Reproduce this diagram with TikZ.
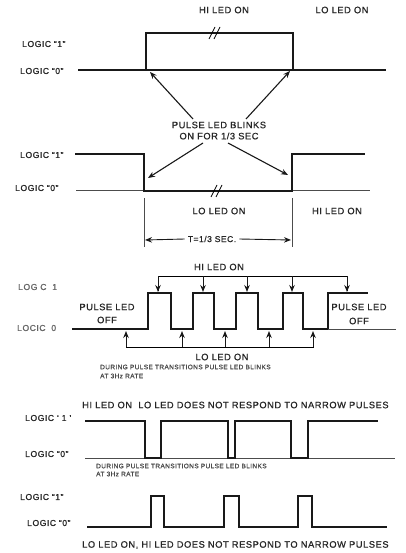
\documentclass[tikz,border=0pt]{standalone}
\usepackage{fontspec}
\setmainfont{Liberation Sans}[LetterSpace=6, FakeBold=0.8]
\usetikzlibrary{arrows.meta}
\begin{document}
\begin{tikzpicture}[x=1pt,y=-1pt,
  sig/.style={line width=1.4pt, line join=miter, line cap=butt, black!90},
  faint/.style={line width=0.6pt, black!70},
  lbl/.style={font=\fontsize{9.3}{10}\selectfont, inner sep=0pt, text=black!85},
  lgc/.style={font=\fontsize{8.6}{9}\selectfont, inner sep=0pt, anchor=west, text=black!85},
  small/.style={font=\fontsize{6.5}{7}\selectfont, inner sep=0pt, anchor=west, text=black!70},
  arr/.style={-{Stealth[length=7pt,width=5.5pt]}, line width=1.1pt, black!90},
  brk/.style={line width=0.8pt}]
\useasboundingbox (0,0) rectangle (406,553);
\fill[white] (0,0) rectangle (406,553);

% ---------- panel 1 ----------
\node[lbl] (p1hi) at (224,10) {HI LED ON};
\node[lbl] (p1lo) at (342,10) {LO LED ON};
\node[lgc] (p1l1) at (22,44) {LOGIC ``1''};
\node[lgc] (p1l0) at (20,71) {LOGIC ``0''};
\draw[sig] (78,70) -- (146,70) -- (146,33) -- (293,33) -- (293,70) -- (386,70);
\draw[sig] (146,70) -- (293,70);
\draw[brk] (209,39) -- (215,27) (214,39) -- (220,27);
\node[lbl] (p1t1) at (219,125) {PULSE LED BLINKS};
\node[lbl] (p1t2) at (219,136) {ON FOR 1/3 SEC};
\coordinate (p1a) at (150,72);
\coordinate (p1b) at (290,71);
\coordinate (p1s) at (193,119);
\coordinate (p1r) at (246,119);
\draw[arr] (p1s) -- (p1a);
\draw[arr] (p1r) -- (p1b);

% ---------- panel 2 ----------
\node[lgc] (p2l1) at (20,155) {LOGIC ``1''};
\node[lgc] (p2l0) at (15,188) {LOGIC ``0''};
\draw[faint] (76,190) -- (144,190) (292,190) -- (370,190);
\draw[sig] (75,154) -- (144,154) -- (144,191) -- (292,191) -- (292,154) -- (365,154);
\draw[brk] (211,197) -- (217,185) (216,197) -- (222,185);
\coordinate (p2a) at (148,178);
\coordinate (p2b) at (288,175);
\coordinate (p2s) at (203,143);
\coordinate (p2r) at (228,143);
\draw[arr] (p2s) -- (p2a);
\draw[arr] (p2r) -- (p2b);
\coordinate (p2v1t) at (144,198);
\coordinate (p2v1b) at (144,247);
\coordinate (p2v2t) at (292,198);
\coordinate (p2v2b) at (292,247);
\draw[faint] (p2v1t) -- (p2v1b);
\draw[faint] (p2v2t) -- (p2v2b);
\node[lbl] (p2lo) at (219,211) {LO LED ON};
\node[lbl] (p2hi) at (337,211) {HI LED ON};
\node[lbl, font=\fontsize{8.5}{9}\selectfont] (p2t) at (212,239) {T=1/3 SEC.};
\coordinate (p2dl) at (145,240);
\coordinate (p2dr) at (291,240);
\draw[arr, line width=0.9pt] (p2t.west) ++(-3,0) -- (p2dl);
\draw[arr, line width=0.9pt] (p2t.east) ++(3,0) -- (p2dr);

% ---------- panel 3 ----------
\node[lbl] (p3hi) at (219,267) {HI LED ON};
\node[lgc, text=black!60] (p3l1) at (18,287) {LOG C\ \ 1};
\node[lgc, text=black!60] (p3l0) at (17,328) {LOCIC\ \ 0};
\draw[sig] (72,329) -- (148,329) -- (148,293) -- (171,293) -- (171,329)
  -- (193,329) -- (193,293) -- (214,293) -- (214,329)
  -- (236,329) -- (236,293) -- (258,293) -- (258,329)
  -- (283,329) -- (283,293) -- (303,293) -- (303,329)
  -- (328,329) -- (328,293) -- (368,293);
\draw[faint] (328,329) -- (396,329);
\draw[line width=1pt] (158,291) -- (158,276) -- (347,276) -- (347,291);
\foreach \x/\n in {158/a,203/b,247/c,292/d,347/e}{
  \coordinate (h\n t) at (\x,276);
  \coordinate (h\n b) at (\x,292);
  \draw[arr, line width=1pt] (h\n t) -- (h\n b);
}
\draw[line width=1pt] (126,333) -- (126,347) -- (313,347) -- (313,333);
\foreach \x/\n in {126/a,182/b,225/c,269/d,313/e}{
  \coordinate (l\n t) at (\x,347);
  \coordinate (l\n b) at (\x,331);
  \draw[arr, line width=1pt] (l\n t) -- (l\n b);
}
\node[lbl] (p3off1) at (107,307) {PULSE LED};
\node[lbl] (p3off1b) at (107,320) {OFF};
\node[lbl] (p3off2) at (359,307) {PULSE LED};
\node[lbl] (p3off2b) at (359,321) {OFF};
\node[lbl] (p3lo) at (222,357) {LO LED ON};
\node[small] (p3d1) at (100,367) {DURING PULSE TRANSITIONS PULSE LED BLINKS};
\node[small] (p3d2) at (100,376) {AT 3Hz RATE};

% ---------- panel 4 ----------
\node[lbl, anchor=west] (p4h) at (82,405) {HI LED ON\ \ LO LED DOES NOT RESPOND TO NARROW PULSES};
\node[lgc] (p4l1) at (25,418) {LOGIC ` 1 '};
\node[lgc] (p4l0) at (25,454) {LOGIC ``0''};
\draw[faint] (85,458) -- (395,458);
\draw[sig] (85,421) -- (145,421) -- (145,458) -- (161,458) -- (161,421)
  -- (228,421) -- (228,458) -- (235,458) -- (235,421)
  -- (291,421) -- (291,458) -- (308,458) -- (308,421) -- (378,421);
\node[small] (p4d1) at (96,466) {DURING PULSE TRANSITIONS PULSE LED BLINKS};
\node[small] (p4d2) at (96,474) {AT 3Hz RATE};

% ---------- panel 5 ----------
\node[lgc] (p5l1) at (20,497) {LOGIC ``1''};
\node[lgc] (p5l0) at (27,523) {LOGIC ``0''};
\draw[sig] (87,527) -- (151,527) -- (151,496) -- (164,496) -- (164,527)
  -- (224,527) -- (224,496) -- (239,496) -- (239,527)
  -- (298,527) -- (298,496) -- (312,496) -- (312,527) -- (387,527);
\node[lbl, anchor=west] (p5b) at (82,545) {LO LED ON, HI LED DOES NOT RESPOND TO NARROW PULSES};
\end{tikzpicture}
\end{document}
